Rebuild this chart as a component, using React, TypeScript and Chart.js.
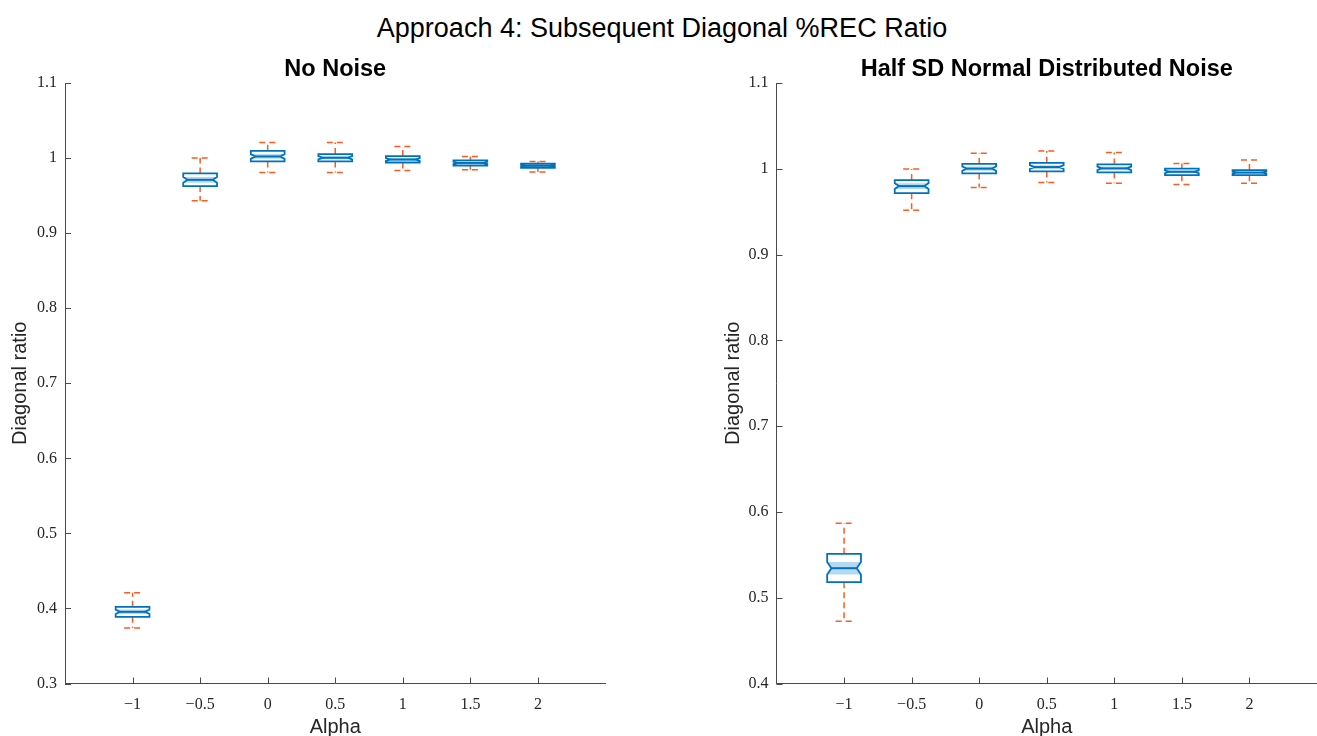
import React, { useEffect, useRef } from 'react';
import { Chart, registerables } from 'chart.js';

Chart.register(...registerables);

// ---------- data ----------
const alphas = [-1, -0.5, 0, 0.5, 1, 1.5, 2];
const xTickLabels = ['\u22121', '\u22120.5', '0', '0.5', '1', '1.5', '2'];

// No Noise
const nnMin = [0.3741, 0.943, 0.9808, 0.9808, 0.9835, 0.9844, 0.9813];
const nnQ1 = [0.3888, 0.9627, 0.9955, 0.9955, 0.9941, 0.9901, 0.9871];
const nnMed = [0.3955, 0.971, 1.0021, 1.0004, 0.9981, 0.9935, 0.9897];
const nnQ3 = [0.4021, 0.9795, 1.0097, 1.0053, 1.0027, 0.9968, 0.9924];
const nnMax = [0.4208, 1.0, 1.0208, 1.0208, 1.0155, 1.0021, 0.9955];

// Half SD Normal Distributed Noise
const hsMin = [0.4726, 0.9518, 0.9783, 0.9841, 0.983, 0.9818, 0.983];
const hsQ1 = [0.5181, 0.9716, 0.9946, 0.997, 0.9958, 0.9926, 0.9926];
const hsMed = [0.5344, 0.9798, 1.0002, 1.002, 1.0005, 0.9965, 0.9956];
const hsQ3 = [0.5512, 0.9868, 1.0058, 1.007, 1.0051, 1.0002, 0.9985];
const hsMax = [0.5869, 0.9997, 1.018, 1.0207, 1.0191, 1.0063, 1.0102];

const yTicksLeft = [0.3, 0.4, 0.5, 0.6, 0.7, 0.8, 0.9, 1, 1.1];
const yTickLabelsLeft = ['0.3', '0.4', '0.5', '0.6', '0.7', '0.8', '0.9', '1', '1.1'];
const yTicksRight = [0.4, 0.5, 0.6, 0.7, 0.8, 0.9, 1, 1.1];
const yTickLabelsRight = ['0.4', '0.5', '0.6', '0.7', '0.8', '0.9', '1', '1.1'];

const sampleSize = 50; // for notch width (MATLAB: 1.57*IQR/sqrt(n))

// ---------- styles ----------
const BOX_COLOR = '#0072BD';
const NOTCH_FILL = 'rgba(120,185,228,0.55)';
const WHISKER_COLOR = '#FF5A1F';
const AXIS_COLOR = '#4a4a4a';
const TEXT_COLOR = '#262626';
const SANS = "'Liberation Sans', Arial, Helvetica, sans-serif";
const SERIF = "'Liberation Serif', 'DejaVu Serif', serif";
const BOX_HALF = 0.125;
const CAP_HALF = 0.0625;

const boxPlugin = {
  id: 'boxes',
  afterDatasetsDraw(chart: any) {
    const { ctx } = chart;
    const x = chart.scales.x;
    const y = chart.scales.y;
    chart.data.datasets.forEach((ds: any) => {
      ds.data.forEach((d: any) => {
        const cx = x.getPixelForValue(d.x);
        const hw = x.getPixelForValue(d.x + BOX_HALF) - cx;
        const chw = x.getPixelForValue(d.x + CAP_HALF) - cx;
        const yMin = y.getPixelForValue(d.min);
        const yMax = y.getPixelForValue(d.max);
        const yQ1 = y.getPixelForValue(d.q1);
        const yQ3 = y.getPixelForValue(d.q3);
        const yMed = y.getPixelForValue(d.y);
        const notch = (1.57 * (d.q3 - d.q1)) / Math.sqrt(sampleSize);
        const yNHi = y.getPixelForValue(d.y + notch);
        const yNLo = y.getPixelForValue(d.y - notch);
        const ind = hw * 0.25;

        ctx.save();
        // whiskers
        ctx.strokeStyle = WHISKER_COLOR;
        ctx.lineWidth = 1.5;
        ctx.setLineDash([6, 4]);
        ctx.beginPath();
        ctx.moveTo(cx, yQ3);
        ctx.lineTo(cx, yMax);
        ctx.moveTo(cx, yQ1);
        ctx.lineTo(cx, yMin);
        ctx.stroke();
        // caps
        ctx.beginPath();
        ctx.moveTo(cx - chw, yMax);
        ctx.lineTo(cx + chw, yMax);
        ctx.stroke();
        ctx.beginPath();
        ctx.moveTo(cx - chw, yMin);
        ctx.lineTo(cx + chw, yMin);
        ctx.stroke();
        ctx.setLineDash([]);

        // notch fill
        ctx.fillStyle = NOTCH_FILL;
        ctx.beginPath();
        ctx.moveTo(cx - hw, yNHi);
        ctx.lineTo(cx - hw + ind, yMed);
        ctx.lineTo(cx - hw, yNLo);
        ctx.lineTo(cx + hw, yNLo);
        ctx.lineTo(cx + hw - ind, yMed);
        ctx.lineTo(cx + hw, yNHi);
        ctx.closePath();
        ctx.fill();

        // box outline
        ctx.strokeStyle = BOX_COLOR;
        ctx.lineWidth = 1.8;
        ctx.lineJoin = 'miter';
        ctx.beginPath();
        ctx.moveTo(cx - hw, yQ3);
        ctx.lineTo(cx + hw, yQ3);
        ctx.lineTo(cx + hw, yNHi);
        ctx.lineTo(cx + hw - ind, yMed);
        ctx.lineTo(cx + hw, yNLo);
        ctx.lineTo(cx + hw, yQ1);
        ctx.lineTo(cx - hw, yQ1);
        ctx.lineTo(cx - hw, yNLo);
        ctx.lineTo(cx - hw + ind, yMed);
        ctx.lineTo(cx - hw, yNHi);
        ctx.closePath();
        ctx.stroke();

        // median
        ctx.lineWidth = 2;
        ctx.beginPath();
        ctx.moveTo(cx - hw + ind, yMed);
        ctx.lineTo(cx + hw - ind, yMed);
        ctx.stroke();
        ctx.restore();
      });
    });
  },
};

const axisDecorPlugin = {
  id: 'axisDecor',
  afterDraw(chart: any) {
    const { ctx, chartArea } = chart;
    const x = chart.scales.x;
    const y = chart.scales.y;
    ctx.save();
    ctx.strokeStyle = AXIS_COLOR;
    ctx.lineWidth = 1;
    ctx.beginPath();
    x.ticks.forEach((t: any) => {
      const px = Math.round(x.getPixelForValue(t.value)) + 0.5;
      ctx.moveTo(px, chartArea.bottom);
      ctx.lineTo(px, chartArea.bottom - 6);
    });
    y.ticks.forEach((t: any) => {
      const py = Math.round(y.getPixelForValue(t.value)) + 0.5;
      ctx.moveTo(chartArea.left, py);
      ctx.lineTo(chartArea.left + 6, py);
    });
    ctx.stroke();
    // subplot title
    const title = chart.options.plugins.axisDecor?.title;
    if (title) {
      ctx.fillStyle = '#000';
      ctx.font = `bold 23.5px ${SANS}`;
      ctx.textAlign = 'center';
      ctx.textBaseline = 'middle';
      ctx.fillText(title, (chartArea.left + chartArea.right) / 2, chartArea.top - 13);
    }
    ctx.restore();
  },
};

type PanelProps = {
  width: number;
  height: number;
  padLeft: number;
  padRight: number;
  yWidth: number;
  title: string;
  yMin: number;
  yMax: number;
  yTicks: number[];
  yTickLabels: string[];
  mins: number[];
  q1s: number[];
  meds: number[];
  q3s: number[];
  maxs: number[];
};

function Panel(p: PanelProps) {
  const ref = useRef<HTMLCanvasElement>(null);
  useEffect(() => {
    if (!ref.current) return;
    const data = alphas.map((a, i) => ({
      x: a,
      y: p.meds[i],
      min: p.mins[i],
      q1: p.q1s[i],
      q3: p.q3s[i],
      max: p.maxs[i],
    }));
    const chartAreaBottom = 683.5;
    const chart = new Chart(ref.current, {
      type: 'scatter',
      data: {
        datasets: [
          {
            label: p.title,
            data,
            pointRadius: 0,
            pointHoverRadius: 0,
            showLine: false,
          } as any,
        ],
      },
      plugins: [boxPlugin, axisDecorPlugin],
      options: {
        animation: false,
        responsive: false,
        events: [],
        layout: {
          padding: { left: p.padLeft, right: p.padRight, top: 83, bottom: 0 },
        },
        plugins: {
          legend: { display: false },
          tooltip: { enabled: false },
          title: { display: false },
          axisDecor: { title: p.title },
        } as any,
        scales: {
          x: {
            type: 'linear',
            min: -1.5,
            max: 2.5,
            afterBuildTicks: (s: any) => {
              s.ticks = alphas.map((v) => ({ value: v }));
            },
            afterFit: (s: any) => {
              s.height = p.height - chartAreaBottom;
            },
            grid: { display: false, drawTicks: false, tickLength: 0 },
            border: { display: true, color: AXIS_COLOR, width: 1 },
            ticks: {
              padding: 12,
              color: TEXT_COLOR,
              font: { family: SERIF, size: 16 },
              autoSkip: false,
              maxRotation: 0,
              callback: (v: any) => {
                const i = alphas.indexOf(Number(v));
                return i >= 0 ? xTickLabels[i] : '';
              },
            },
            title: {
              display: true,
              text: 'Alpha',
              color: TEXT_COLOR,
              font: { family: SANS, size: 20, lineHeight: 1 },
              padding: { top: 0, bottom: -1 },
            },
          },
          y: {
            type: 'linear',
            min: p.yMin,
            max: p.yMax,
            afterBuildTicks: (s: any) => {
              s.ticks = p.yTicks.map((v) => ({ value: v }));
            },
            afterFit: (s: any) => {
              s.width = p.yWidth;
            },
            grid: { display: false, drawTicks: false, tickLength: 0 },
            border: { display: true, color: AXIS_COLOR, width: 1 },
            ticks: {
              padding: 8,
              color: TEXT_COLOR,
              font: { family: SERIF, size: 16 },
              autoSkip: false,
              callback: (v: any) => {
                const i = p.yTicks.findIndex((t) => Math.abs(t - Number(v)) < 1e-9);
                return i >= 0 ? p.yTickLabels[i] : '';
              },
            },
            title: {
              display: true,
              text: 'Diagonal ratio',
              color: TEXT_COLOR,
              font: { family: SANS, size: 20, lineHeight: 1.2 },
              padding: { top: 8, bottom: 0 },
            },
          },
        },
      } as any,
    });
    return () => chart.destroy();
  }, []);
  return <canvas ref={ref} width={p.width} height={p.height} style={{ display: 'block' }} />;
}

export default function App() {
  return (
    <div
      style={{
        position: 'fixed',
        left: 0,
        top: 0,
        width: 1317,
        height: 736,
        background: '#fff',
        overflow: 'hidden',
      }}
    >
      <div
        style={{
          position: 'absolute',
          left: 0,
          top: 13,
          width: 1324,
          textAlign: 'center',
          fontFamily: SANS,
          fontSize: 27,
          lineHeight: '30px',
          color: '#000',
          whiteSpace: 'nowrap',
        }}
      >
        Approach 4: Subsequent Diagonal %REC Ratio
      </div>
      <div style={{ position: 'absolute', left: 0, top: 0 }}>
        <Panel
          width={660}
          height={736}
          padLeft={0}
          padRight={54.5}
          yWidth={65}
          title="No Noise"
          yMin={0.3}
          yMax={1.1}
          yTicks={yTicksLeft}
          yTickLabels={yTickLabelsLeft}
          mins={nnMin}
          q1s={nnQ1}
          meds={nnMed}
          q3s={nnQ3}
          maxs={nnMax}
        />
      </div>
      <div style={{ position: 'absolute', left: 660, top: 0 }}>
        <Panel
          width={657}
          height={736}
          padLeft={53}
          padRight={0}
          yWidth={63.5}
          title="Half SD Normal Distributed Noise"
          yMin={0.4}
          yMax={1.1}
          yTicks={yTicksRight}
          yTickLabels={yTickLabelsRight}
          mins={hsMin}
          q1s={hsQ1}
          meds={hsMed}
          q3s={hsQ3}
          maxs={hsMax}
        />
      </div>
    </div>
  );
}
